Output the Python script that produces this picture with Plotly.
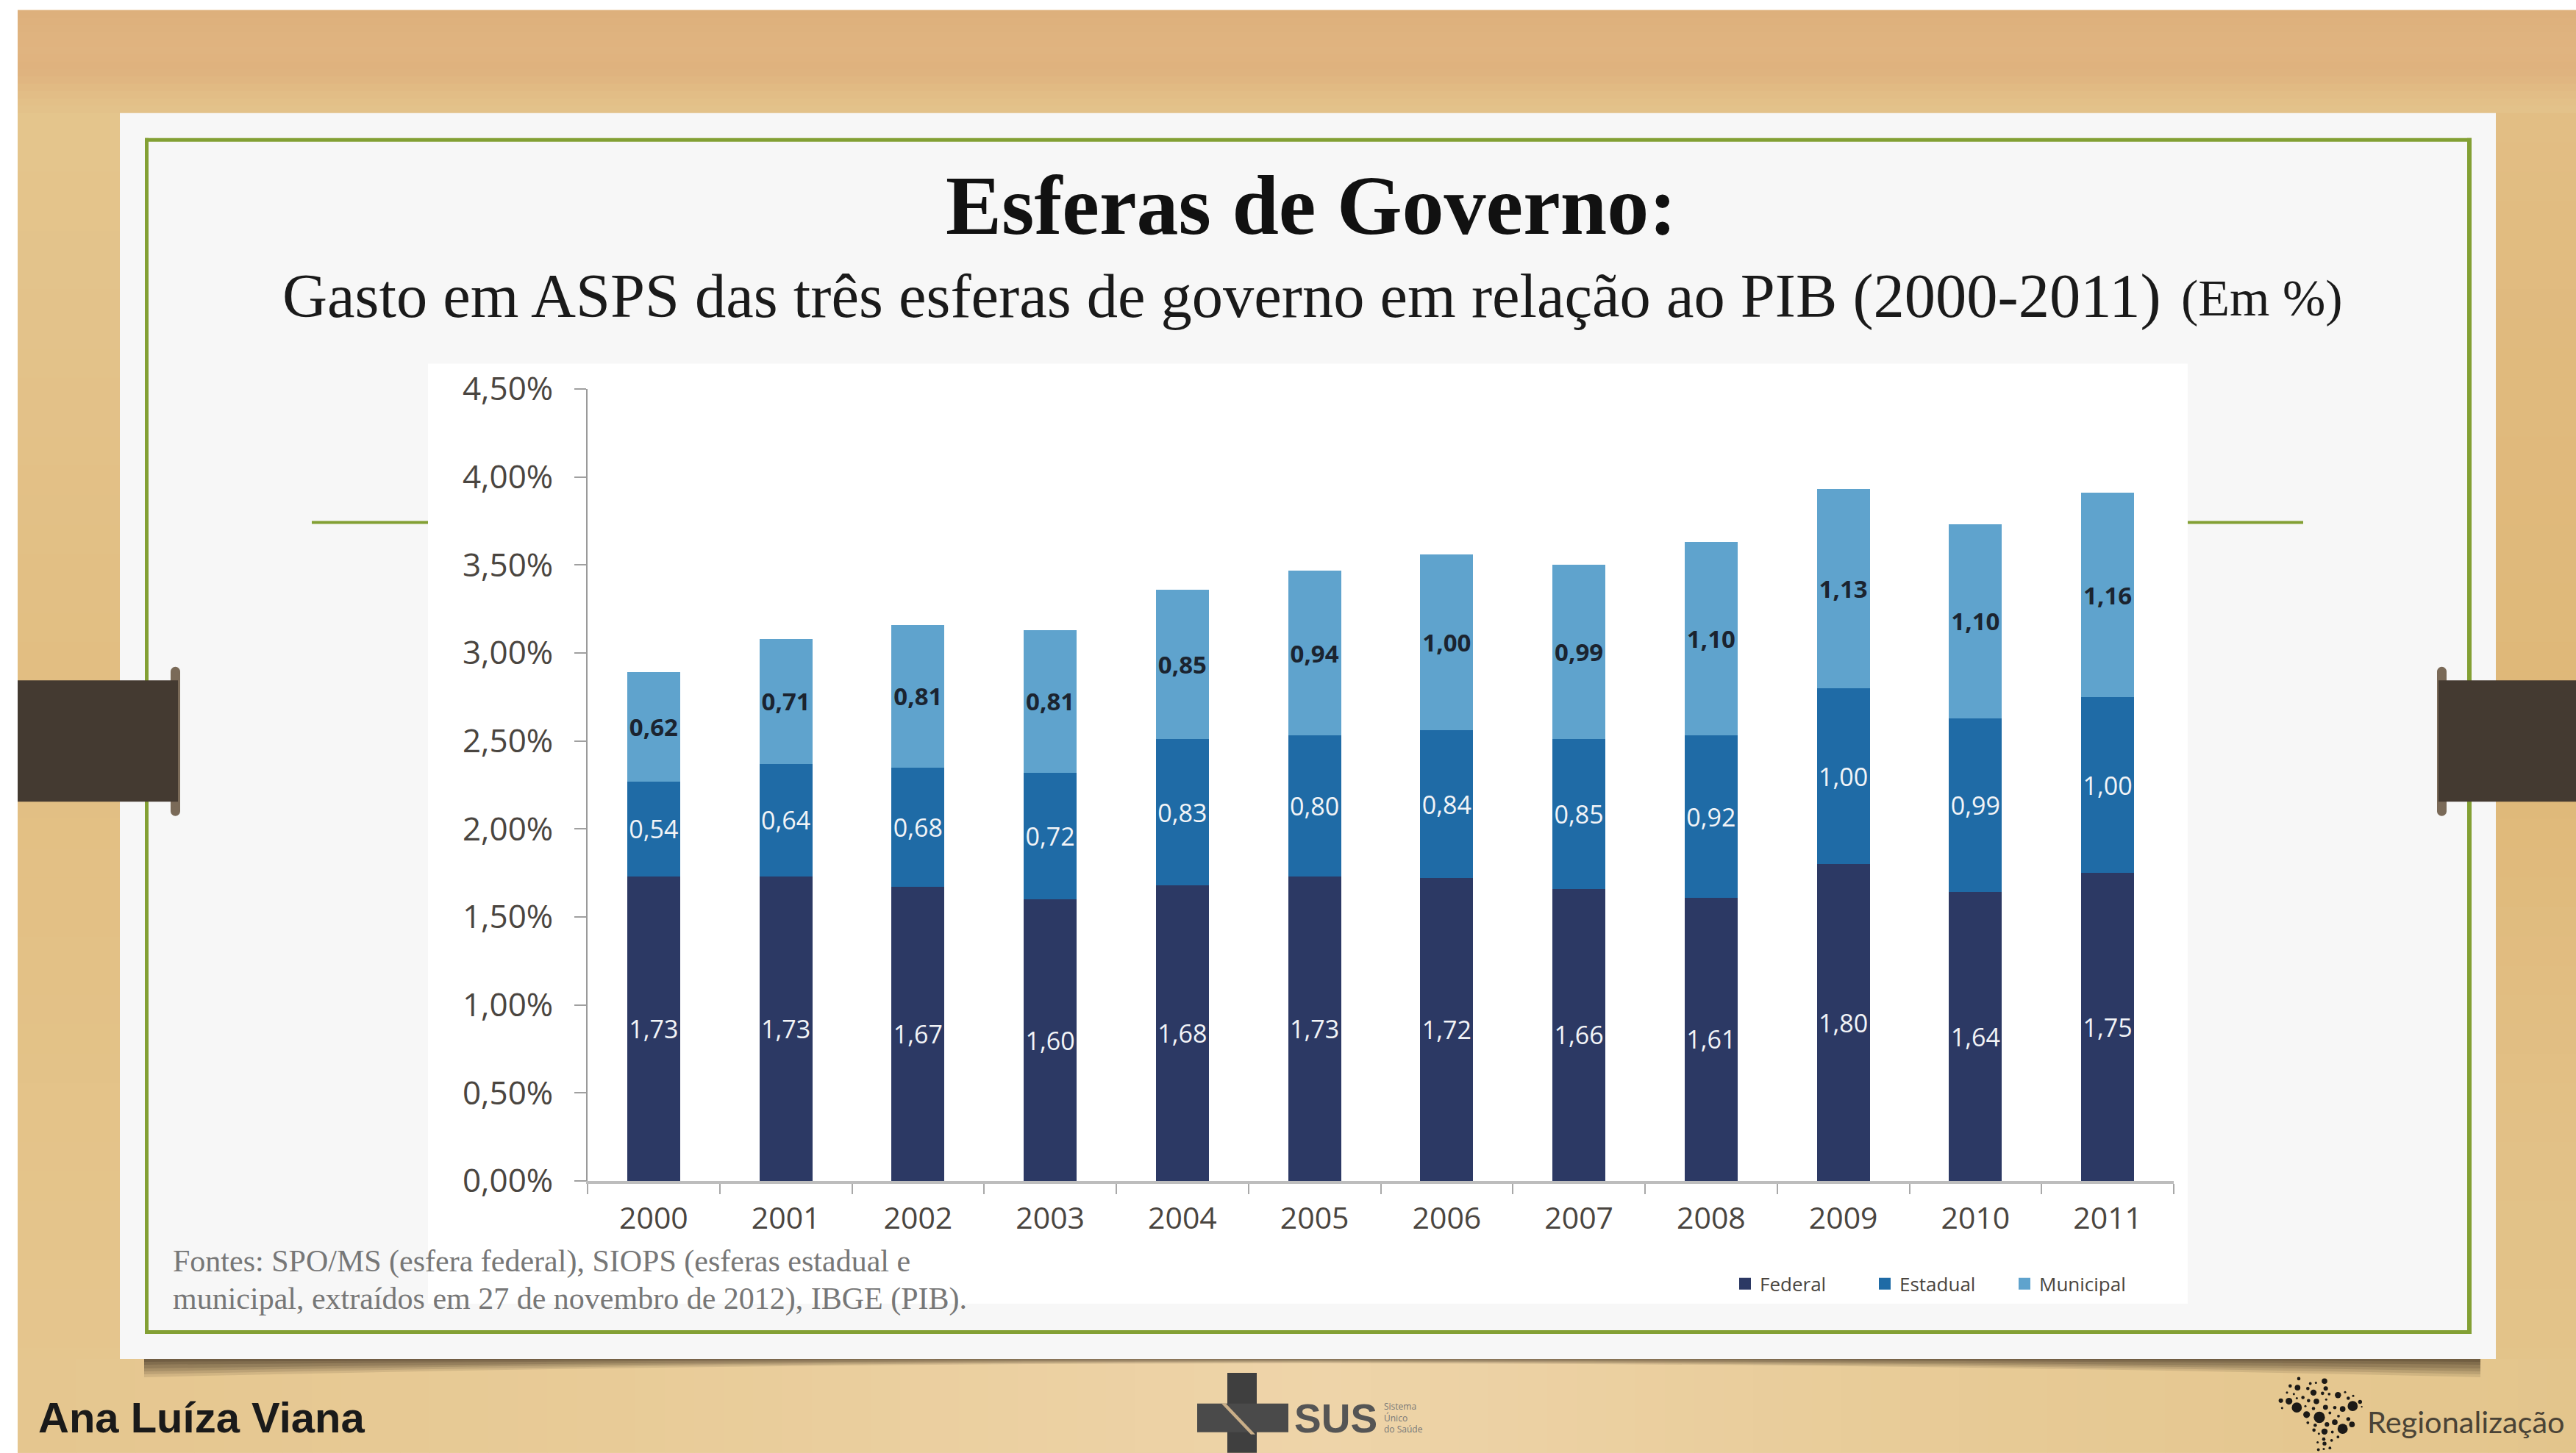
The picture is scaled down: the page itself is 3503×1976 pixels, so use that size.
import plotly.graph_objects as go

years = ["2000","2001","2002","2003","2004","2005","2006","2007","2008","2009","2010","2011"]
federal = [1.73,1.73,1.67,1.60,1.68,1.73,1.72,1.66,1.61,1.80,1.64,1.75]
estadual = [0.54,0.64,0.68,0.72,0.83,0.80,0.84,0.85,0.92,1.00,0.99,1.00]
municipal = [0.62,0.71,0.81,0.81,0.85,0.94,1.00,0.99,1.10,1.13,1.10,1.16]
y_ticks = [0,0.5,1,1.5,2,2.5,3,3.5,4,4.5]
y_tick_labels = ["0,00%","0,50%","1,00%","1,50%","2,00%","2,50%","3,00%","3,50%","4,00%","4,50%"]

W, H = 3503, 1976
PL, PR, PT, PB = 799, 2956, 528.5, 1606
fx = lambda X: (X - PL) / (PR - PL)
fy = lambda Y: (PB - Y) / (PB - PT)

shapes = []
def rect(x0, y0, x1, y1, color, opacity=1):
    shapes.append(dict(type="rect", xref="paper", yref="paper", x0=fx(x0), x1=fx(x1), y0=fy(y0), y1=fy(y1),
                       fillcolor=color, opacity=opacity, line=dict(width=0), layer="below"))
def dot(x, y, r, color="#1c1a17"):
    shapes.append(dict(type="circle", xref="paper", yref="paper", x0=fx(x-r), x1=fx(x+r), y0=fy(y+r), y1=fy(y-r),
                       fillcolor=color, line=dict(width=0), layer="below"))
def path(points_d, color, opacity=1):
    shapes.append(dict(type="path", xref="paper", yref="paper", path=points_d, fillcolor=color, opacity=opacity,
                       line=dict(width=0), layer="below"))

def blend(stops, t):
    # smooth wood shading between a few colour stops
    for (t0, c0), (t1, c1) in zip(stops, stops[1:]):
        if t <= t1:
            k = (t - t0) / (t1 - t0)
            rgb = [round(int(c0[i:i+2], 16) * (1-k) + int(c1[i:i+2], 16) * k) for i in (1, 3, 5)]
            return "#%02X%02X%02X" % tuple(rgb)
    return stops[-1][1]

# wood background
rect(24, 13, W, H, "#E3C48B")
top_stops = [(13,"#DDB07C"),(60,"#E0B480"),(90,"#DFB27E"),(125,"#E2BE86"),(153,"#E4C58C")]
for y in range(13, 153, 10):
    rect(24, y, W, y+11, blend(top_stops, y))
left_stops = [(153,"#E4C58C"),(420,"#E3C28A"),(900,"#E2BE82"),(1300,"#E3C186"),(1848,"#E5C68E")]
right_stops = [(153,"#E2BE84"),(420,"#E0BA7E"),(1000,"#DFB878"),(1500,"#E2C086"),(1848,"#E3C48A")]
for y in range(153, 1848, 40):
    rect(24, y, 163, y+41, blend(left_stops, y))
    rect(3394, y, W, y+41, blend(right_stops, y))
bottom_stops = [(24,"#E5C68F"),(800,"#E8CB97"),(1780,"#EED4A9"),(2700,"#E7CA95"),(3503,"#E3C58C")]
for x in range(24, W, 40):
    rect(x, 1848, x+41, H, blend(bottom_stops, x))

# curved slide shadow
x0, x1 = fx(196), fx(3373)
y_top = fy(1846)
for depth, op in [(27,0.12),(23,0.14),(19,0.16),(15,0.18),(10,0.2),(6,0.24)]:
    y_end, y_ctrl = fy(1846+depth), fy(1846-0.4*depth)
    path(f"M {x0},{y_top} L {x1},{y_top} L {x1},{y_end} Q {(x0+x1)/2},{y_ctrl} {x0},{y_end} Z", "#3d2f20", op)

# slide, frame, accent lines, chart panel
GREEN = "#83A034"
rect(163, 153, 3394, 1848, "#F7F7F7")
rect(197, 187, 3361, 192, GREEN)
rect(197, 1809, 3361, 1814, GREEN)
rect(197, 187, 202, 1814, GREEN)
rect(3355, 187, 3361, 1814, GREEN)
rect(424, 708, 582, 712, GREEN)
rect(2975, 708, 3132, 712, GREEN)
rect(582, 494, 2975, 1773, "#FFFFFF")

# clamps
CLAMP = "#443A31"
KNOB = "#7A6A58"
rect(232, 913, 245, 1103, KNOB)
dot(238.5, 913, 6.5, KNOB)
dot(238.5, 1103, 6.5, KNOB)
rect(24, 925, 242, 1090, CLAMP)
rect(3314, 913, 3327, 1103, KNOB)
dot(3320.5, 913, 6.5, KNOB)
dot(3320.5, 1103, 6.5, KNOB)
rect(3316, 925, W, 1090, CLAMP)

# SUS cross
rect(1669, 1867, 1709, H, "#3F3F3F")
rect(1628, 1909, 1752, 1948, "#4A4A4A")
xa, xb, xc, xd = fx(1661), fx(1667), fx(1707), fx(1701)
ya, yb = fy(1909), fy(1951)
path(f"M {xa},{ya} L {xb},{ya} L {xc},{yb} L {xd},{yb} Z", "#C9AE88")

# Regionalização map dots
map_dots = [(138,75,6),(243,85,10),(103,105,6),(133,112,10),(185,95,5),(208,92,4),(248,115,8),(175,115,6),
            (198,132,11),(235,135,6),(262,138,5),(298,142,11),(327,130,4),(90,132,4),(118,138,4),(155,152,6),
            (130,155,4),(65,165,8),(98,167,12),(178,165,6),(210,168,10),(250,160,4),(340,155,6),(360,145,4),
            (130,193,18),(70,195,4),(165,187,4),(198,197,6),(247,192,9),(285,193,6),(317,199,10),(358,187,18),
            (388,170,7),(395,190,3),(170,222,12),(222,233,20),(265,215,5),(300,228,5),(340,240,7),(285,253,10),
            (253,262,8),(355,262,10),(175,255,5),(205,265,6),(317,280,18),(275,293,5),(243,291,11),(200,285,6),
            (220,300,4),(298,313,5),(240,322,6),(272,327,5),(215,335,4),(243,340,7),(265,358,5),(240,362,4),(218,365,5)]
for zx, zy, d in map_dots:
    dot(3080 + zx/3, 1850 + zy/3, d/3 * 1.15)

traces = [
    go.Bar(name="Federal", x=years, y=federal, marker_color="#2C3964", showlegend=False,
           text=[f"{v:.2f}".replace(".", ",") for v in federal],
           textfont=dict(family="Open Sans", size=34, color="#F2F4F7")),
    go.Bar(name="Estadual", x=years, y=estadual, marker_color="#1F6BA6", showlegend=False,
           text=[f"{v:.2f}".replace(".", ",") for v in estadual],
           textfont=dict(family="Open Sans", size=34, color="#F2F4F7")),
    go.Bar(name="Municipal", x=years, y=municipal, marker_color="#5FA3CD", showlegend=False,
           text=[f"{v:.2f}".replace(".", ",") for v in municipal],
           textfont=dict(family="Open Sans", size=33, color="#1B2430", weight="bold")),
]
fig = go.Figure(traces)
fig.update_traces(textposition="inside", insidetextanchor="middle", textangle=0, constraintext="none",
                  marker_line_width=0, cliponaxis=False)
for name, color in [("Federal","#2C3964"),("Estadual","#1F6BA6"),("Municipal","#5FA3CD")]:
    fig.add_trace(go.Scatter(x=[None], y=[None], mode="markers", name=name,
                             marker=dict(symbol="square", size=19, color=color)))

def note(text, X, Y, size, family, color, anchor="left", weight=None, align="left"):
    f = dict(size=size, family=family, color=color)
    if weight: f["weight"] = weight
    return dict(text=text, x=fx(X), y=fy(Y), xref="paper", yref="paper", showarrow=False,
                xanchor=anchor, yanchor="middle", align=align, font=f)

annotations = [
    note("Esferas de Governo:", 1783, 279, 114, "Liberation Serif", "#111111", "center", "bold"),
    note("Gasto em ASPS das três esferas de governo em relação ao PIB (2000-2011)", 382, 402, 84.5, "Liberation Serif", "#1A1A1A"),
    note("(Em %)", 2964, 405, 70, "Liberation Serif", "#1A1A1A"),
    note("Fontes: SPO/MS (esfera federal), SIOPS (esferas estadual e", 233, 1716, 42, "Liberation Serif", "#777777"),
    note("municipal, extraídos em 27 de novembro de 2012), IBGE (PIB).", 233, 1767, 42, "Liberation Serif", "#777777"),
    note("Ana Luíza Viana", 50, 1928, 58, "Liberation Sans", "#1A1A1A", "left", "bold"),
    note("SUS", 1758, 1929, 55, "Liberation Sans", "#555555", "left", "bold"),
    note("Sistema<br>Único<br>do Saúde", 1880, 1928, 12, "Open Sans", "#777777"),
    note("Regionalização", 3217, 1933, 41.5, "Lato", "#4A4336"),
]

fig.update_layout(
    width=W, height=H, autosize=False,
    margin=dict(l=PL, r=W-PR, t=PT, b=H-PB, pad=0),
    paper_bgcolor="#FFFFFF", plot_bgcolor="rgba(0,0,0,0)",
    barmode="stack", bargap=0.6,
    shapes=shapes, annotations=annotations,
    font=dict(family="Open Sans", color="#4A4540"),
    legend=dict(orientation="h", traceorder="normal", x=fx(2353), y=fy(1746), xanchor="left", yanchor="middle",
                font=dict(size=26, family="Open Sans", color="#4A4540"),
                entrywidth=145, entrywidthmode="pixels", bgcolor="rgba(0,0,0,0)", itemclick=False),
    xaxis=dict(type="category", range=[-0.5, 11.5], tickson="boundaries", ticks="outside", ticklen=14, tickwidth=2,
               tickcolor="#A8A8A8", showline=True, linecolor="#BDBDBD", linewidth=4, showgrid=False, zeroline=False,
               tickfont=dict(size=41, family="Open Sans", color="#4A4540"), ticklabelstandoff=12),
    yaxis=dict(range=[0, 4.5], tickvals=y_ticks, ticktext=y_tick_labels, ticks="outside", ticklen=16, tickwidth=2,
               tickcolor="#A0A0A0", showline=True, linecolor="#9A9A9A", linewidth=2, showgrid=False, zeroline=False,
               tickfont=dict(size=44, family="Open Sans", color="#4A4540"), ticklabelstandoff=20),
)
fig.write_html("out.html", config={"displayModeBar": False}, post_script="document.body.style.margin='0';")
